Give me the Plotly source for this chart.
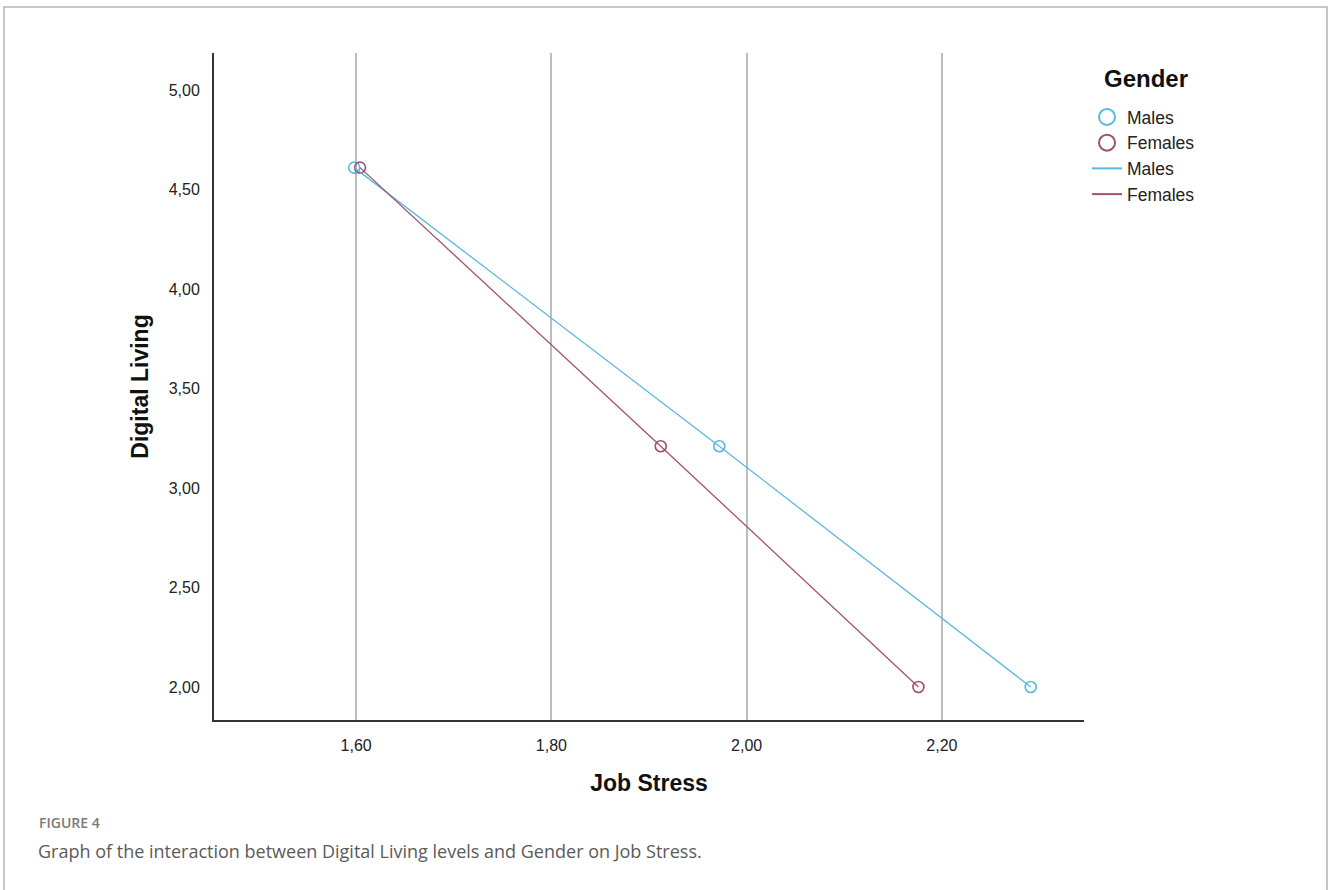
import plotly.graph_objects as go

# Data
x_ticks = [1.60, 1.80, 2.00, 2.20]
y_ticks = [2.00, 2.50, 3.00, 3.50, 4.00, 4.50, 5.00]
males_x = [1.598, 1.972, 2.291]
males_y = [4.61, 3.21, 2.00]
females_x = [1.604, 1.912, 2.176]
females_y = [4.61, 3.21, 2.00]
groups = ["Males", "Females"]

W, H = 1328, 890
male_c = "#5BB8DE"
female_c = "#A3506F"
FONT = "Liberation Sans, Arial, sans-serif"

fig = go.Figure()
series = [(groups[0], males_x, males_y, male_c), (groups[1], females_x, females_y, female_c)]
# markers (plot)
for name, xs, ys, c in series:
    fig.add_trace(go.Scatter(x=xs, y=ys, mode="markers", name=name, showlegend=False,
                             marker=dict(symbol="circle-open", size=11, color=c, line=dict(width=1.6))))
# lines (plot)
for name, xs, ys, c in series:
    fig.add_trace(go.Scatter(x=xs, y=ys, mode="lines", name=name, showlegend=False,
                             line=dict(color=c, width=1.3)))
# legend entries
for name, xs, ys, c in series:
    fig.add_trace(go.Scatter(x=[None], y=[None], mode="markers", name=name,
                             marker=dict(symbol="circle-open", size=16, color=c, line=dict(width=2))))
for name, xs, ys, c in series:
    fig.add_trace(go.Scatter(x=[None], y=[None], mode="lines", name=name,
                             line=dict(color=c, width=2)))

def px(x):
    return x / W
def py(y):
    return 1 - y / H

fig.update_layout(
    width=W, height=H,
    margin=dict(l=0, r=0, t=0, b=0),
    paper_bgcolor="white", plot_bgcolor="white",
    separators=",.",
    font=dict(family=FONT, size=16, color="#222"),
    xaxis=dict(domain=[px(214), px(1084)], range=[1.4544, 2.3456],
               tickvals=x_ticks, tickformat=".2f", showgrid=True, gridcolor="#BDBDBD", gridwidth=1.5,
               showline=True, linecolor="#333", linewidth=2, ticks="", zeroline=False,
               ticklabelstandoff=10,
               title=dict(text="<b>Job Stress</b>", font=dict(size=23, color="#111"), standoff=22)),
    yaxis=dict(domain=[py(720), py(53)], range=[1.834, 5.186],
               tickvals=y_ticks, tickformat=".2f", showgrid=False,
               showline=True, linecolor="#333", linewidth=2, ticks="", zeroline=False,
               ticklabelstandoff=9,
               title=dict(text="<b>Digital Living</b>", font=dict(size=23, color="#111"), standoff=14)),
    legend=dict(x=px(1087), y=py(99), xanchor="left", yanchor="top",
                font=dict(size=17.5, color="#222"), tracegroupgap=0, itemwidth=30,
                bgcolor="rgba(0,0,0,0)"),
    showlegend=True,
)

fig.add_annotation(text="<b>Gender</b>", xref="paper", yref="paper", x=px(1102), y=py(78),
                   xanchor="left", yanchor="middle", showarrow=False,
                   font=dict(family=FONT, size=24, color="#111"))

fig.add_shape(type="rect", xref="paper", yref="paper",
              x0=px(4), x1=px(1327), y0=-0.02, y1=py(7),
              line=dict(color="#B5B5B5", width=1.5), fillcolor="rgba(0,0,0,0)", layer="below")

fig.add_annotation(text="FIGURE 4", xref="paper", yref="paper", x=px(37), y=py(822),
                   xanchor="left", yanchor="middle", showarrow=False,
                   font=dict(family="Open Sans, sans-serif", size=14, color="#7A7A7A", weight=600))
fig.add_annotation(text="Graph of the interaction between Digital Living levels and Gender on Job Stress.",
                   xref="paper", yref="paper", x=px(36), y=py(851),
                   xanchor="left", yanchor="middle", showarrow=False,
                   font=dict(family="Open Sans, sans-serif", size=18, color="#5A5A5A"))

fig.write_html("out.html", config={"displayModeBar": False},
               post_script="document.body.style.margin='0';")
